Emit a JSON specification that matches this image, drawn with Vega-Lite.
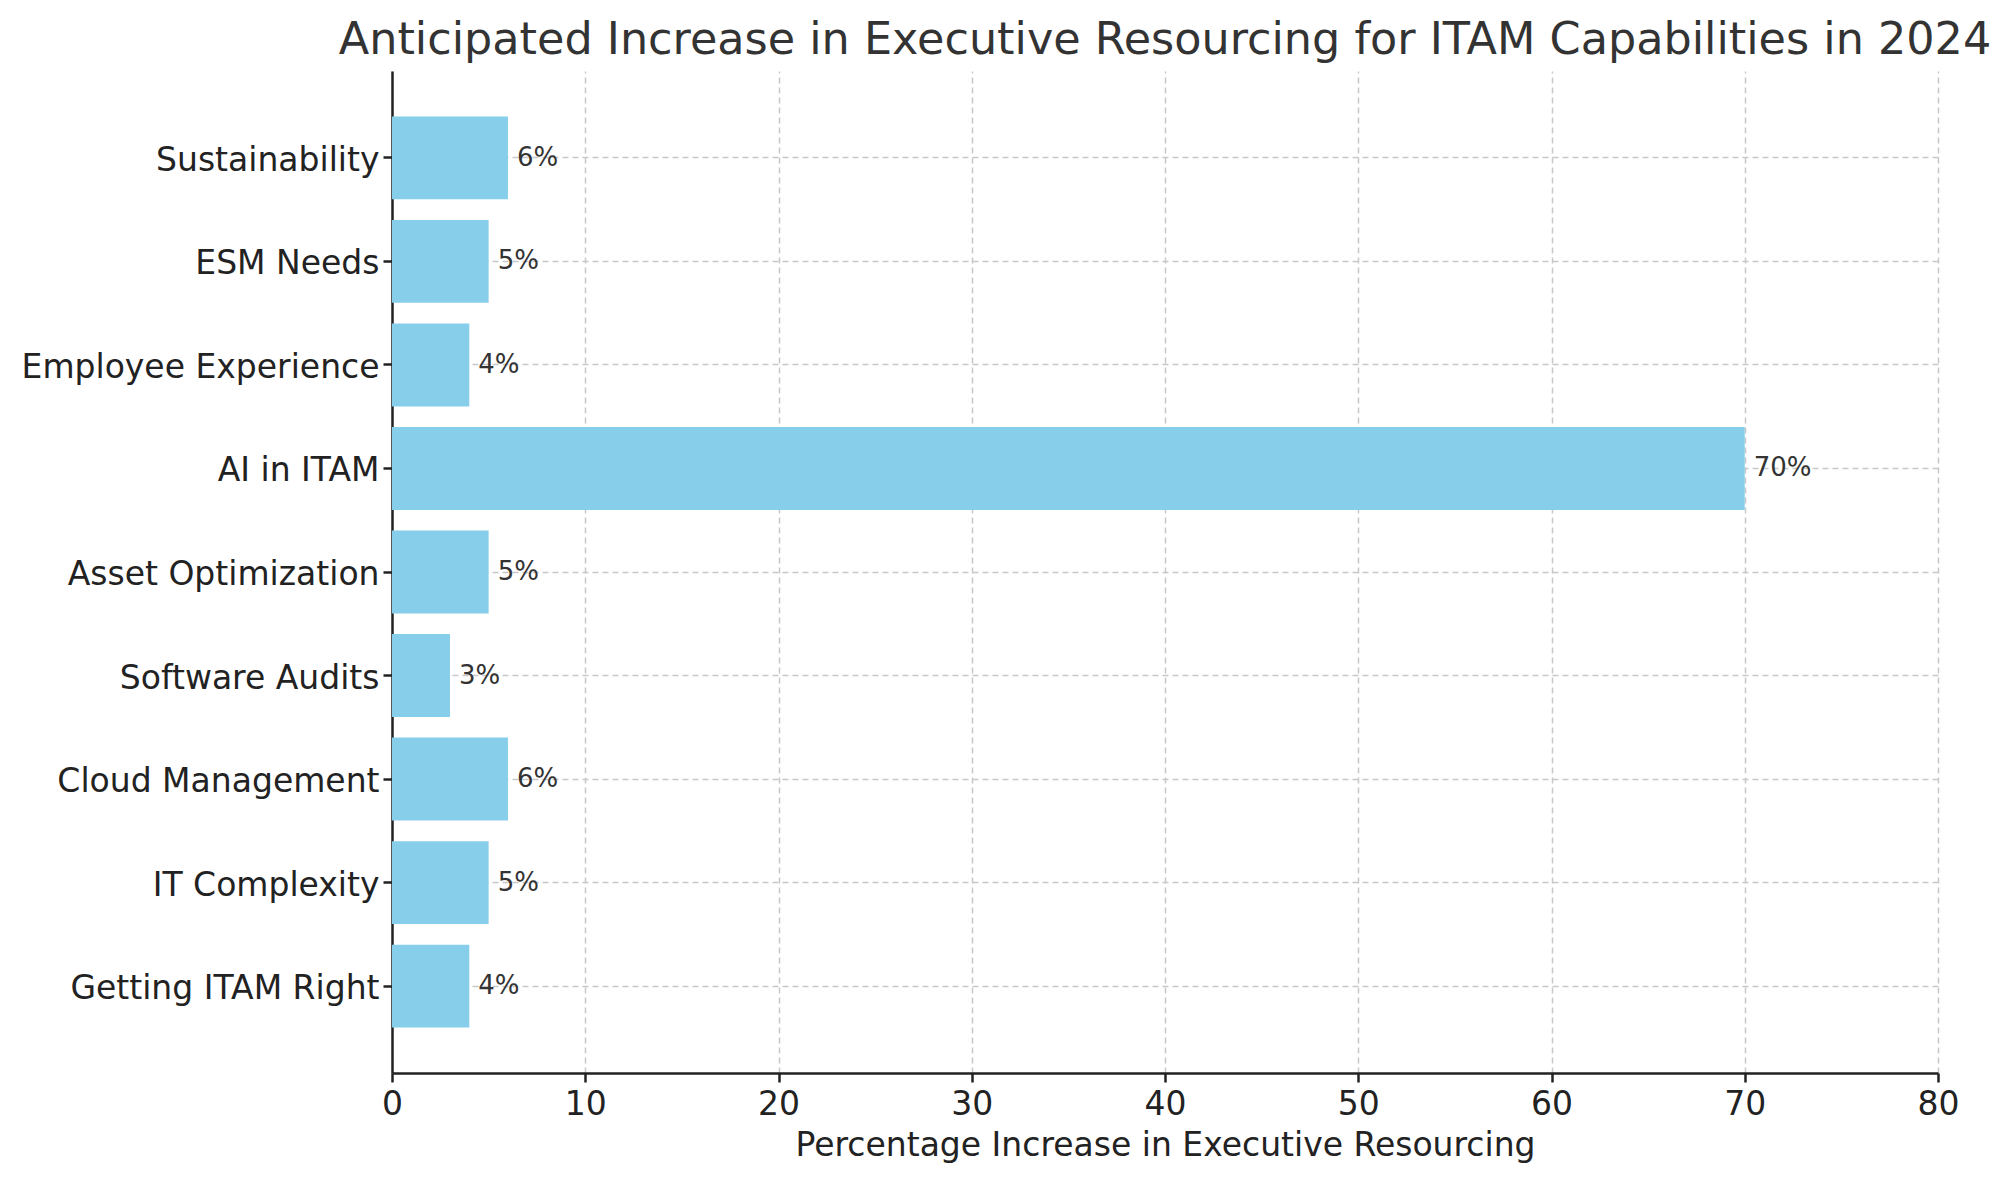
{
  "$schema": "https://vega.github.io/schema/vega-lite/v6.json",
  "background": "#ffffff",
  "autosize": {"type": "none"},
  "padding": {"left": 392, "top": 71, "right": 73, "bottom": 107},
  "width": 1546,
  "height": 1002,
  "title": {
    "text": "Anticipated Increase in Executive Resourcing for ITAM Capabilities in 2024",
    "font": "DejaVu Sans",
    "fontSize": 44.5,
    "fontWeight": "normal",
    "color": "#333333",
    "anchor": "middle",
    "offset": 8
  },
  "data": {
    "values": [
      {"capability": "Getting ITAM Right", "pct": 4, "label": "4%"},
      {"capability": "IT Complexity", "pct": 5, "label": "5%"},
      {"capability": "Cloud Management", "pct": 6, "label": "6%"},
      {"capability": "Software Audits", "pct": 3, "label": "3%"},
      {"capability": "Asset Optimization", "pct": 5, "label": "5%"},
      {"capability": "AI in ITAM", "pct": 70, "label": "70%"},
      {"capability": "Employee Experience", "pct": 4, "label": "4%"},
      {"capability": "ESM Needs", "pct": 5, "label": "5%"},
      {"capability": "Sustainability", "pct": 6, "label": "6%"}
    ]
  },
  "config": {
    "view": {"stroke": null},
    "axis": {
      "labelFont": "DejaVu Sans",
      "titleFont": "DejaVu Sans",
      "labelColor": "#222222",
      "titleColor": "#222222",
      "labelFontSize": 33,
      "titleFontSize": 33,
      "titleFontWeight": "normal",
      "domainColor": "#222222",
      "domainWidth": 2.5,
      "tickColor": "#222222",
      "tickWidth": 2.5,
      "tickSize": 9,
      "labelPadding": 4,
      "labelFlush": false,
      "gridColor": "#c8c8c8",
      "gridDash": [6, 4],
      "gridWidth": 1.5
    }
  },
  "encoding": {
    "y": {
      "field": "capability",
      "type": "nominal",
      "sort": ["Sustainability", "ESM Needs", "Employee Experience", "AI in ITAM", "Asset Optimization", "Software Audits", "Cloud Management", "IT Complexity", "Getting ITAM Right"],
      "scale": {"paddingInner": 0.2, "paddingOuter": 0.44},
      "axis": {"title": null, "grid": true, "bandPosition": 0.5, "labelLimit": 0, "labelOffset": 3}
    },
    "x": {
      "field": "pct",
      "type": "quantitative",
      "scale": {"domain": [0, 80], "nice": false},
      "axis": {
        "title": "Percentage Increase in Executive Resourcing",
        "values": [0, 10, 20, 30, 40, 50, 60, 70, 80],
        "grid": true,
        "labelPadding": 6,
        "titlePadding": 8
      }
    }
  },
  "layer": [
    {"mark": {"type": "bar", "color": "#87CEEB"}},
    {
      "mark": {"type": "text", "align": "left", "baseline": "middle", "dx": 9, "font": "DejaVu Sans", "fontSize": 26, "color": "#333333"},
      "encoding": {"text": {"field": "label", "type": "nominal"}}
    }
  ]
}
